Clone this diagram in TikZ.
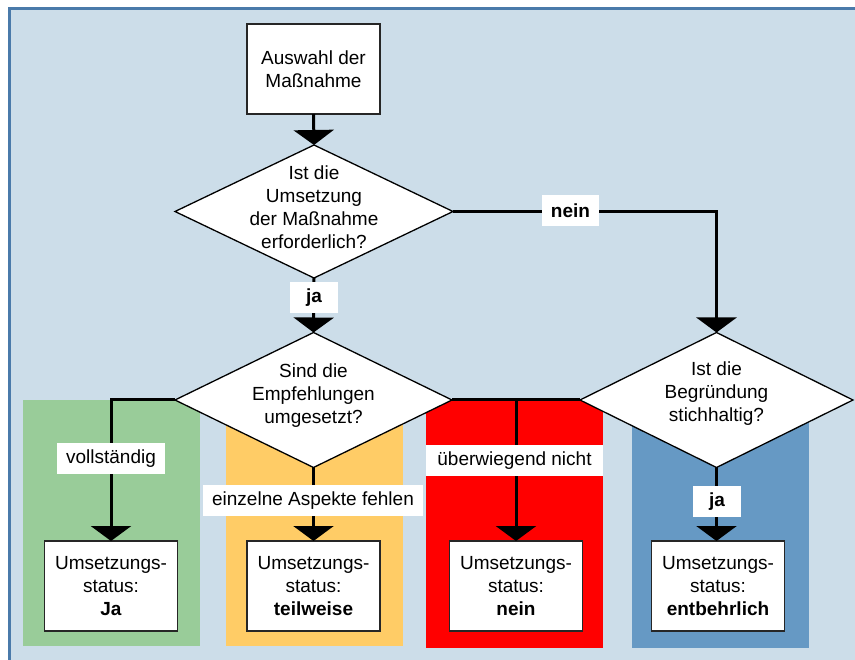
\documentclass[tikz,border=0pt]{standalone}
\usepackage{fontspec}
\setmainfont{Liberation Sans}
\usetikzlibrary{arrows.meta,shapes.geometric}
\definecolor{bgblue}{RGB}{204,221,233}
\definecolor{framecol}{RGB}{74,122,170}
\definecolor{pgreen}{RGB}{153,204,153}
\definecolor{porange}{RGB}{255,204,102}
\definecolor{pred}{RGB}{255,0,0}
\definecolor{pblue}{RGB}{102,153,196}
\tikzset{
  box/.style={draw=black!85, line width=1.6pt, fill=white, minimum width=133pt,
    minimum height=90pt, inner sep=2pt, align=center, outer sep=0pt},
  question/.style={draw=black, line width=1.3pt, fill=white, shape=diamond,
    inner sep=0pt, outer sep=0pt},
  qtext/.style={align=center, inner sep=0pt},
  conn/.style={line width=3pt, -{Triangle[width=40pt,length=15pt]}},
  plain/.style={line width=3pt},
  lab/.style={fill=white, inner xsep=9pt, inner ysep=0pt, minimum height=31pt},
}
\begin{document}
\begin{tikzpicture}[x=1pt,y=-1pt,font=\fontsize{19}{23}\selectfont]
\useasboundingbox (0,0) rectangle (855,660);
% background with frame on top and left
\fill[white] (0,0) rectangle (855,660);
\fill[bgblue] (8,7) rectangle (855,660);
\draw[framecol, line width=3pt] (9.5,660) -- (9.5,8.5) -- (855,8.5);

% coloured result panels
\fill[pgreen]  (23,400) rectangle (200,646);
\fill[porange] (226,400) rectangle (403,646);
\fill[pred]    (426,400) rectangle (603,648);
\fill[pblue]   (632,400) rectangle (809,648);

% start box and decision diamonds
\node[box] (start) at (313.5,69) {Auswahl der\\Maßnahme};
\node[question, minimum width=278pt, minimum height=133pt] (d1) at (314,211.5) {};
\node[question, minimum width=277pt, minimum height=135pt] (d2) at (313.5,400) {};
\node[question, minimum width=273pt, minimum height=135pt] (d3) at (716.5,400) {};
\node[qtext] (t1) at ([yshift=4pt]d1.center) {Ist die\\Umsetzung\\der Maßnahme\\erforderlich?};
\node[qtext] (t2) at ([yshift=4pt]d2.center) {Sind die\\Empfehlungen\\umgesetzt?};
\node[qtext] (t3) at ([yshift=6pt]d3.center) {Ist die\\Begründung\\stichhaltig?};

% result boxes
\node[box] (b1) at (111,586) {Umsetzungs-\\status:\\\textbf{Ja}};
\node[box] (b2) at (313.5,586) {Umsetzungs-\\status:\\\textbf{teilweise}};
\node[box] (b3) at (516,586) {Umsetzungs-\\status:\\\textbf{nein}};
\node[box] (b4) at (718,586) {Umsetzungs-\\status:\\\textbf{entbehrlich}};

% connectors
\draw[conn] (start.south) -- (d1.north);
\draw[conn] (d1.south) -- (d2.north);
\draw[conn] (d1.east) -| (d3.north);
\draw[conn] (d2.west) -| (b1.north);
\draw[conn] (d2.south) -- (b2.north -| d2.south);
\draw[plain] (d2.east) -- (d3.west);
\draw[conn] (d2.east -| b3.north) -- (b3.north);
\draw[conn] (d3.south) -- (b4.north -| d3.south);

% branch labels
\node[lab, minimum width=48pt] (lja1) at (314,298) {\textbf{ja}};
\node[lab, minimum width=55pt] (lnein) at (570.5,211) {\textbf{nein}};
\node[lab] (lvoll) at (111,458.5) {vollständig};
\node[lab] (lteil) at (313,500.5) {einzelne Aspekte fehlen};
\node[lab, minimum width=177pt] (lnicht) at (514.5,460.5) {überwiegend nicht};
\node[lab, minimum width=48pt] (lja2) at (717,501.5) {\textbf{ja}};
\end{tikzpicture}
\end{document}
